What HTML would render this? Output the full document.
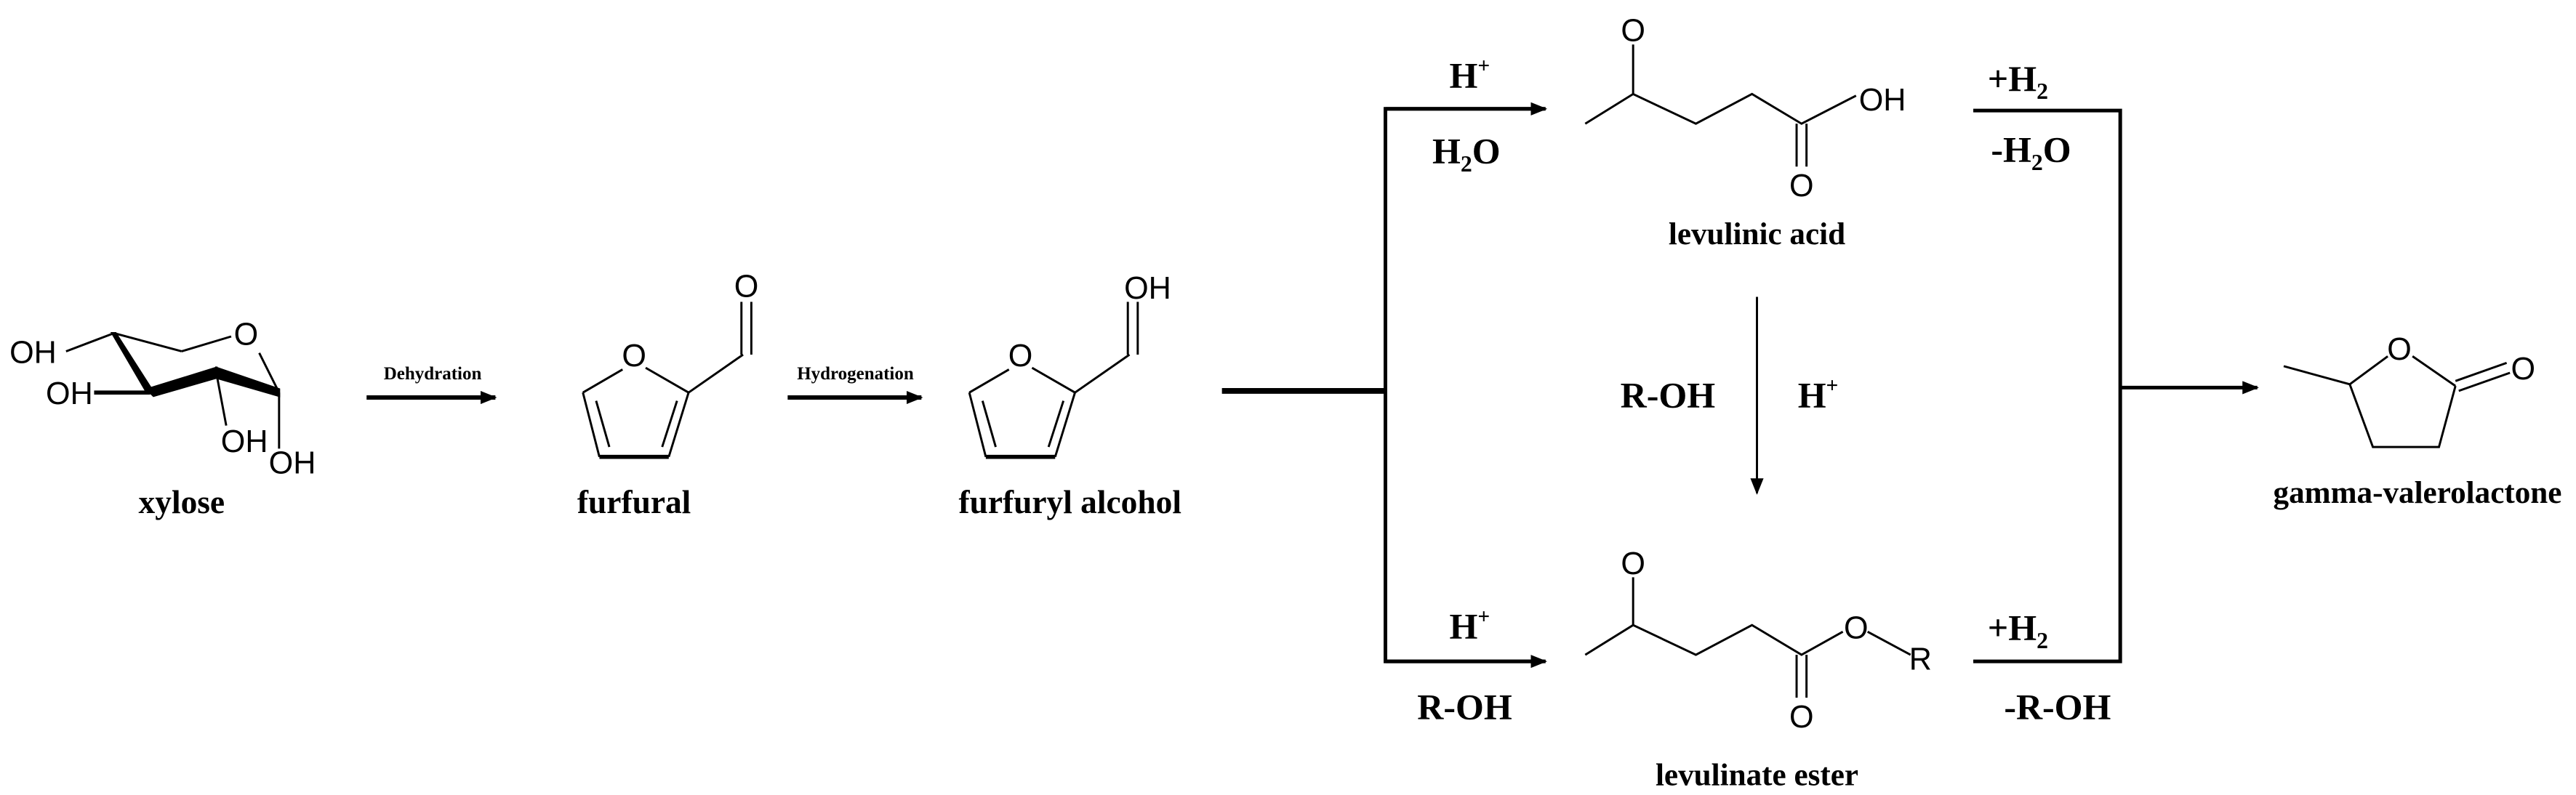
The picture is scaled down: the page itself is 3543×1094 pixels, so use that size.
<!DOCTYPE html>
<html><head><meta charset="utf-8"><style>
html,body{margin:0;padding:0;background:#fff;}
svg{display:block}
.l{font-family:"Liberation Serif",serif;font-weight:bold;text-anchor:middle;fill:#000}
.a{font-family:"Liberation Sans",sans-serif;text-anchor:middle;fill:#000;font-size:19px}
</style></head><body>
<svg width="3543" height="1094" viewBox="0 0 1560 482" preserveAspectRatio="none" xmlns="http://www.w3.org/2000/svg">
<defs>
<marker id="ah" markerWidth="10" markerHeight="8" refX="9" refY="4" orient="auto" markerUnits="userSpaceOnUse">
<path d="M0,0 L10,4 L0,8 z" fill="#000"/></marker>
</defs>
<g stroke="#000" fill="none" stroke-width="1.3">
<!-- xylose -->
<line x1="40" y1="213" x2="69" y2="202"/>
<line x1="69" y1="202" x2="110" y2="213"/>
<line x1="110" y1="213" x2="140" y2="204"/>
<line x1="157" y1="214" x2="169" y2="238"/>
<polygon points="68,202 70,202 93,238 89,238" fill="#000"/>
<polygon points="89,236 131,223 131,229 93,240" fill="#000"/>
<polygon points="131,223 169,236 169,240 131,229" fill="#000"/>
<line x1="57" y1="238" x2="91" y2="238" stroke-width="2.5"/>
<line x1="131" y1="226" x2="137" y2="258"/>
<line x1="169" y1="238" x2="169" y2="272"/>
</g>
<text class="a" x="20" y="220">OH</text>
<text class="a" x="42" y="245">OH</text>
<text class="a" x="148" y="274">OH</text>
<text class="a" x="177" y="287">OH</text>
<text class="a" x="149" y="209">O</text>
<text class="l" x="110" y="311" font-size="20">xylose</text>

<!-- arrows left -->
<g stroke="#000" stroke-width="2.6">
<line x1="222" y1="241" x2="300" y2="241" marker-end="url(#ah)"/>
<line x1="477" y1="241" x2="558" y2="241" marker-end="url(#ah)"/>
<line x1="740" y1="237" x2="840" y2="237" stroke-width="3.5"/>
</g>
<text class="l" x="262" y="230" font-size="11">Dehydration</text>
<text class="l" x="518" y="230" font-size="11">Hydrogenation</text>

<!-- furfural -->
<g id="fur" stroke="#000" fill="none" stroke-width="1.3">
<line x1="377" y1="224" x2="353" y2="238"/>
<line x1="353" y1="238" x2="363" y2="277"/>
<line x1="363" y1="277" x2="405" y2="277" stroke-width="2.5"/>
<line x1="405" y1="277" x2="417" y2="238"/>
<line x1="417" y1="238" x2="391" y2="223"/>
<line x1="361" y1="243" x2="369" y2="271"/>
<line x1="410" y1="243" x2="401" y2="271"/>
<line x1="417" y1="238" x2="450" y2="215"/>
<line x1="449" y1="215" x2="449" y2="183"/>
<line x1="455" y1="215" x2="455" y2="183"/>
</g>
<text class="a" x="384" y="222">O</text>
<text class="a" x="452" y="180">O</text>
<text class="l" x="384" y="311" font-size="20">furfural</text>

<use href="#fur" x="234" y="0"/>
<text class="a" x="618" y="222">O</text>
<text class="a" x="695" y="181">OH</text>
<text class="l" x="648" y="311" font-size="20">furfuryl alcohol</text>

<!-- branches -->
<g stroke="#000" stroke-width="2.2" fill="none">
<polyline points="935,66 839,66 839,401 935,401"/>
<line x1="839" y1="66" x2="936" y2="66" marker-end="url(#ah)"/>
<line x1="839" y1="401" x2="936" y2="401" marker-end="url(#ah)"/>
<polyline points="1195,67 1284,67 1284,401 1195,401"/>
<line x1="1284" y1="235" x2="1367" y2="235" marker-end="url(#ah)"/>
<line x1="1064" y1="180" x2="1064" y2="299" stroke-width="1.3" marker-end="url(#ah)"/>
</g>
<text class="l" x="890" y="53" font-size="22">H<tspan font-size="13" dy="-9">+</tspan></text>
<text class="l" x="888" y="99" font-size="22">H<tspan font-size="14" dy="5">2</tspan><tspan dy="-5">O</tspan></text>
<text class="l" x="890" y="387" font-size="22">H<tspan font-size="13" dy="-9">+</tspan></text>
<text class="l" x="887" y="436" font-size="22">R-OH</text>
<text class="l" x="1222" y="55" font-size="22">+H<tspan font-size="14" dy="5">2</tspan></text>
<text class="l" x="1230" y="98" font-size="22">-H<tspan font-size="14" dy="5">2</tspan><tspan dy="-5">O</tspan></text>
<text class="l" x="1222" y="388" font-size="22">+H<tspan font-size="14" dy="5">2</tspan></text>
<text class="l" x="1246" y="436" font-size="22">-R-OH</text>
<text class="l" x="1010" y="247" font-size="22">R-OH</text>
<text class="l" x="1101" y="247" font-size="22">H<tspan font-size="13" dy="-9">+</tspan></text>

<!-- levulinic acid -->
<g stroke="#000" fill="none" stroke-width="1.3">
<polyline points="960,75 989,57 1027,75 1061,57 1091,75 1124,58"/>
<line x1="989" y1="57" x2="989" y2="27"/>
<line x1="1088" y1="75" x2="1088" y2="101"/>
<line x1="1094" y1="75" x2="1094" y2="101"/>
<polyline points="960,397 989,379 1027,397 1061,379 1091,397 1116,383"/>
<line x1="989" y1="379" x2="989" y2="350"/>
<line x1="1088" y1="397" x2="1088" y2="423"/>
<line x1="1094" y1="397" x2="1094" y2="423"/>
<line x1="1131" y1="383" x2="1157" y2="397"/>
</g>
<text class="a" x="989" y="25">O</text>
<text class="a" x="1140" y="67">OH</text>
<text class="a" x="1091" y="119">O</text>
<text class="l" x="1064" y="148" font-size="19">levulinic acid</text>
<text class="a" x="989" y="348">O</text>
<text class="a" x="1124" y="387">O</text>
<text class="a" x="1163" y="406">R</text>
<text class="a" x="1091" y="441">O</text>
<text class="l" x="1064" y="476" font-size="19">levulinate ester</text>

<!-- GVL -->
<g stroke="#000" fill="none" stroke-width="1.3">
<line x1="1383" y1="222" x2="1423" y2="233"/>
<line x1="1423" y1="233" x2="1446" y2="216"/>
<line x1="1461" y1="216" x2="1487" y2="234"/>
<polyline points="1423,233 1437,271 1477,271 1487,234"/>
<line x1="1487" y1="231" x2="1518" y2="220"/>
<line x1="1489" y1="237" x2="1520" y2="226"/>
</g>
<text class="a" x="1453" y="218">O</text>
<text class="a" x="1528" y="230">O</text>
<text class="l" x="1464" y="305" font-size="19">gamma-valerolactone</text>
</svg>
</body></html>
